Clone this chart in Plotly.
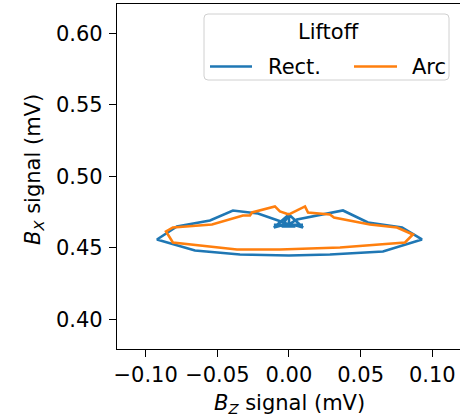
import plotly.graph_objects as go

# Liftoff loops: B_Z vs B_X sensor signal (mV)
rect_bz = [0.0, 0.0056, 0.0377, 0.0551, 0.0789, 0.0928, 0.0656, 0.0286, 0.0, -0.0342,
           -0.0656, -0.0921, -0.0782, -0.0551, -0.0391, -0.0216, -0.0056, 0.0,
           0.0, -0.0105, 0.0, 0.0098, 0.0, -0.0050, 0.0045, -0.0105, 0.0098]
rect_bx = [0.4663, 0.4698, 0.4761, 0.4677, 0.4642, 0.4558, 0.4474, 0.4453, 0.4446, 0.4453,
           0.4481, 0.4558, 0.4649, 0.4691, 0.4761, 0.4740, 0.4684, 0.4663,
           0.4733, 0.4642, 0.4670, 0.4642, 0.4733, 0.4649, 0.4649, 0.4660, 0.4660]

arc_bz = [0.0, 0.0112, 0.0133, 0.0286, 0.0314, 0.0565, 0.0754, 0.0865, 0.0810, 0.0356,
          -0.0063, -0.0363, -0.0810, -0.0858, -0.0810, -0.0537, -0.0321, -0.0272,
          -0.0258, -0.0098, -0.0063, 0.0]
arc_bx = [0.4733, 0.4789, 0.4747, 0.4733, 0.4712, 0.4663, 0.4642, 0.4593, 0.4537, 0.4502,
          0.4488, 0.4488, 0.4537, 0.4614, 0.4642, 0.4663, 0.4726, 0.4726,
          0.4747, 0.4789, 0.4754, 0.4733]

series_names = ["Rect.", "Arc"]
series_colors = ["#1f77b4", "#ff7f0e"]
legend_title = "Liftoff"

x_ticks = [-0.10, -0.05, 0.00, 0.05, 0.10]
y_ticks = [0.40, 0.45, 0.50, 0.55, 0.60]

W, H = 460, 419
L, R, T, B = 117, 0, 4, 70
PW, PH = W - L - R, H - T - B
FONT = "DejaVu Sans"
FS = 21
LW = 2.6


def px(x):
    return (x - L) / PW


def py(y):
    return (H - B - y) / PH


fig = go.Figure()
for xs, ys, name, color in zip([rect_bz, arc_bz], [rect_bx, arc_bx], series_names, series_colors):
    fig.add_trace(go.Scatter(x=xs, y=ys, mode="lines", name=name,
                             line=dict(color=color, width=LW), showlegend=False))

# Legend box drawn by hand (matplotlib-style frame)
x0, x1, y0, y1, r = 204, 449, 14, 80, 4
path = (f"M {px(x0 + r)} {py(y0)} L {px(x1 - r)} {py(y0)} "
        f"Q {px(x1)} {py(y0)} {px(x1)} {py(y0 + r)} L {px(x1)} {py(y1 - r)} "
        f"Q {px(x1)} {py(y1)} {px(x1 - r)} {py(y1)} L {px(x0 + r)} {py(y1)} "
        f"Q {px(x0)} {py(y1)} {px(x0)} {py(y1 - r)} L {px(x0)} {py(y0 + r)} "
        f"Q {px(x0)} {py(y0)} {px(x0 + r)} {py(y0)} Z")
shapes = [dict(type="path", path=path, xref="paper", yref="paper",
               line=dict(color="#d0d0d0", width=1), fillcolor="rgba(255,255,255,0.8)",
               layer="above")]
annotations = [dict(text=legend_title, x=px(328), y=py(32), xref="paper", yref="paper",
                    showarrow=False, font=dict(family=FONT, size=FS, color="black"),
                    xanchor="center", yanchor="middle")]
for (lx0, lx1, tx), name, color in zip([(210, 252, 266), (354, 397, 410)], series_names, series_colors):
    shapes.append(dict(type="line", xref="paper", yref="paper", x0=px(lx0), x1=px(lx1),
                       y0=py(66.5), y1=py(66.5), line=dict(color=color, width=LW), layer="above"))
    annotations.append(dict(text=name, x=px(tx), y=py(66.5), xref="paper", yref="paper",
                            showarrow=False, font=dict(family=FONT, size=FS, color="black"),
                            xanchor="left", yanchor="middle"))

# Axis titles
annotations.append(dict(text="<i>B<sub>Z</sub></i> signal (mV)", x=px(289), y=py(404),
                        xref="paper", yref="paper", showarrow=False,
                        font=dict(family=FONT, size=FS, color="black"),
                        xanchor="center", yanchor="middle"))
annotations.append(dict(text="<i>B<sub>X</sub></i> signal (mV)", x=px(34), y=py(170),
                        xref="paper", yref="paper", showarrow=False, textangle=-90,
                        font=dict(family=FONT, size=FS, color="black"),
                        xanchor="center", yanchor="middle"))

axis_common = dict(showgrid=False, zeroline=False, showline=True, mirror=True,
                   linecolor="black", linewidth=1.3, ticks="outside", ticklen=7,
                   tickwidth=1.3, tickcolor="black",
                   tickfont=dict(family=FONT, size=FS, color="black"))

fig.update_layout(
    width=W, height=H, margin=dict(l=L, r=R, t=T, b=B),
    paper_bgcolor="white", plot_bgcolor="white",
    xaxis=dict(range=[-0.12, -0.12 + PW / 1433], tickvals=x_ticks,
               ticktext=[f"{v:.2f}".replace("-", "\u2212") for v in x_ticks], **axis_common),
    yaxis=dict(range=[0.3792, 0.6205], tickvals=y_ticks, ticklabelstandoff=2,
               ticktext=[f"{v:.2f}" for v in y_ticks], **axis_common),
    shapes=shapes, annotations=annotations, showlegend=False,
)

fig.write_html("out.html")
